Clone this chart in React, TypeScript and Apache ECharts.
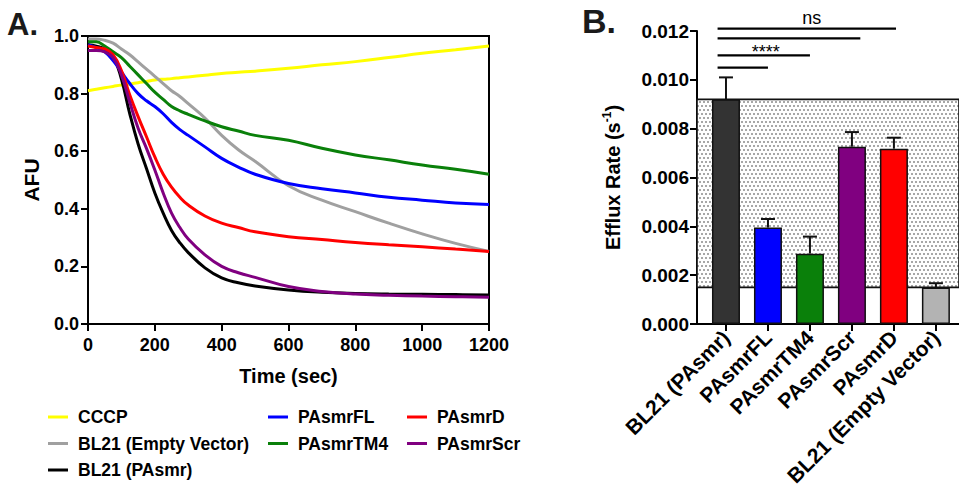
import React, { useEffect, useRef } from "react";
import * as echarts from "echarts";

// ---------- Panel A data ----------
const timeSec = [0, 25, 50, 75, 100, 125, 150, 175, 200, 225, 250, 275, 300, 350, 400, 450, 500, 600, 700, 800, 900, 1000, 1100, 1200];
const cccp = [0.81, 0.815, 0.82, 0.825, 0.83, 0.833, 0.838, 0.842, 0.847, 0.85, 0.852, 0.855, 0.858, 0.864, 0.87, 0.874, 0.878, 0.888, 0.9, 0.911, 0.925, 0.94, 0.952, 0.965];
const bl21Empty = [0.99, 0.99, 0.985, 0.975, 0.955, 0.935, 0.91, 0.885, 0.86, 0.835, 0.81, 0.79, 0.765, 0.715, 0.655, 0.605, 0.565, 0.48, 0.43, 0.39, 0.35, 0.313, 0.28, 0.252];
const bl21PAsmr = [0.97, 0.965, 0.955, 0.93, 0.85, 0.73, 0.625, 0.54, 0.455, 0.385, 0.325, 0.282, 0.248, 0.195, 0.16, 0.143, 0.132, 0.118, 0.11, 0.106, 0.104, 0.103, 0.102, 0.101];
const pasmrFL = [0.97, 0.96, 0.945, 0.915, 0.875, 0.835, 0.8, 0.775, 0.755, 0.73, 0.7, 0.675, 0.655, 0.615, 0.575, 0.545, 0.52, 0.488, 0.47, 0.455, 0.44, 0.43, 0.42, 0.415];
const pasmrTM4 = [0.98, 0.98, 0.965, 0.945, 0.925, 0.895, 0.865, 0.835, 0.805, 0.78, 0.755, 0.74, 0.728, 0.705, 0.685, 0.67, 0.655, 0.638, 0.61, 0.587, 0.57, 0.552, 0.537, 0.52];
const pasmrD = [0.965, 0.96, 0.955, 0.935, 0.88, 0.795, 0.72, 0.65, 0.58, 0.52, 0.475, 0.44, 0.413, 0.375, 0.35, 0.335, 0.32, 0.303, 0.293, 0.283, 0.275, 0.268, 0.26, 0.252];
const pasmrScr = [0.95, 0.95, 0.945, 0.925, 0.865, 0.77, 0.68, 0.61, 0.535, 0.455, 0.385, 0.335, 0.295, 0.24, 0.2, 0.178, 0.162, 0.13, 0.113, 0.104, 0.1, 0.097, 0.095, 0.093];

const curveNames = ["CCCP", "BL21 (Empty Vector)", "BL21 (PAsmr)", "PAsmrFL", "PAsmrTM4", "PAsmrD", "PAsmrScr"];
const curveValues = [cccp, bl21Empty, bl21PAsmr, pasmrFL, pasmrTM4, pasmrD, pasmrScr];
const curveColors = ["#ffff00", "#a0a0a0", "#000000", "#0000ff", "#0a800a", "#ff0000", "#800080"];

// ---------- Panel B data ----------
const barCategories = ["BL21 (PAsmr)", "PAsmrFL", "PAsmrTM4", "PAsmrScr", "PAsmrD", "BL21 (Empty Vector)"];
const effluxMean = [0.0092, 0.00395, 0.00288, 0.00726, 0.00718, 0.0015];
const effluxSEM = [0.0009, 0.00035, 0.0007, 0.0006, 0.00045, 0.00017];
const barColors = ["#333333", "#0000ff", "#0a800a", "#800080", "#ff0000", "#b3b3b3"];
const bracketStart = -0.2;
const bracketEnd = [1.0, 2.0, 3.2, 4.05];
const bracketY = [0.0105, 0.011, 0.0117, 0.0121];
const bracketLabel = ["", "****", "", "ns"];

const FONT = "'Liberation Sans', Arial, Helvetica, sans-serif";

function makeDotPattern(): any {
  const c = document.createElement("canvas");
  c.width = 8;
  c.height = 8;
  const ctx = c.getContext("2d")!;
  ctx.fillStyle = "#ffffff";
  ctx.fillRect(0, 0, 8, 8);
  ctx.fillStyle = "#3a3a3a";
  const dots = [[2, 2], [6, 2], [0, 6], [4, 6], [8, 6]];
  dots.forEach(([x, y]) => {
    ctx.beginPath();
    ctx.arc(x, y, 0.8, 0, Math.PI * 2);
    ctx.fill();
  });
  return { image: c, repeat: "repeat" };
}

export default function App() {
  const ref = useRef<HTMLDivElement>(null);

  useEffect(() => {
    if (!ref.current) return;
    const chart = echarts.init(ref.current, null, { renderer: "svg" });

    const lineSeries = curveNames.map((name, i) => ({
      name,
      type: "line",
      xAxisIndex: 0,
      yAxisIndex: 0,
      showSymbol: false,
      smooth: 0.45,
      lineStyle: { color: curveColors[i], width: 3 },
      itemStyle: { color: curveColors[i] },
      data: timeSec.map((t, k) => [t, curveValues[i][k]]),
      z: 2 + i * 0.01,
    }));

    const legendText = { fontFamily: FONT, fontWeight: "bold", fontSize: 17.5, color: "#000", lineHeight: 20, padding: [0, 0, 0, 5] };
    const legendBase = { orient: "vertical", top: 407, padding: 0, itemGap: 6.5, itemWidth: 20, itemHeight: 3, icon: "rect", textStyle: legendText, selectedMode: false };

    const option: any = {
      animation: false,
      backgroundColor: "#ffffff",
      graphic: [
        { type: "text", left: 7, top: 9, style: { text: "A.", font: `bold 31px ${FONT}`, fill: "#1a1a1a" } },
        { type: "text", left: 582, top: 4, style: { text: "B.", font: `bold 34px ${FONT}`, fill: "#1a1a1a" } },
      ],
      legend: [
        { ...legendBase, left: 48, data: curveNames.slice(0, 3) },
        { ...legendBase, left: 268, data: curveNames.slice(3, 5) },
        { ...legendBase, left: 407, data: curveNames.slice(5, 7) },
      ],
      grid: [
        { left: 88, top: 36, width: 401, height: 288, show: true, borderColor: "#000", borderWidth: 2, backgroundColor: "transparent" },
        { left: 697, top: 31, right: 0, height: 293 },
      ],
      xAxis: [
        {
          gridIndex: 0, type: "value", min: 0, max: 1200, interval: 200,
          name: "Time (sec)", nameLocation: "middle", nameGap: 42,
          nameTextStyle: { fontFamily: FONT, fontWeight: "bold", fontSize: 20, color: "#000" },
          axisLine: { show: true, onZero: false, lineStyle: { color: "#000", width: 2 } },
          axisTick: { show: true, inside: false, length: 7, lineStyle: { color: "#000", width: 2 } },
          axisLabel: { fontFamily: FONT, fontWeight: "bold", fontSize: 18, color: "#000", margin: 12, formatter: (v: number) => String(v) },
          splitLine: { show: false },
        },
        {
          gridIndex: 1, type: "value", min: -0.69, max: 5.55,
          axisLine: { show: true, onZero: false, lineStyle: { color: "#000", width: 2 } },
          axisTick: { show: true, inside: false, length: 7, customValues: [0, 1, 2, 3, 4, 5], lineStyle: { color: "#000", width: 2 } },
          axisLabel: {
            customValues: [0, 1, 2, 3, 4, 5],
            formatter: (v: number) => barCategories[Math.round(v)] ?? "",
            rotate: 45, fontFamily: FONT, fontWeight: "bold", fontSize: 21, color: "#000", margin: 10,
          },
          splitLine: { show: false },
        },
      ],
      yAxis: [
        {
          gridIndex: 0, type: "value", min: 0, max: 1, interval: 0.2,
          name: "AFU", nameLocation: "middle", nameGap: 46, nameRotate: 90,
          nameTextStyle: { fontFamily: FONT, fontWeight: "bold", fontSize: 21, color: "#000" },
          axisLine: { show: true, onZero: false, lineStyle: { color: "#000", width: 2 } },
          axisTick: { show: true, inside: false, length: 7, lineStyle: { color: "#000", width: 2 } },
          axisLabel: { fontFamily: FONT, fontWeight: "bold", fontSize: 18, color: "#000", margin: 9, formatter: (v: number) => v.toFixed(1) },
          splitLine: { show: false },
        },
        {
          gridIndex: 1, type: "value", min: 0, max: 0.012, interval: 0.002,
          name: "{a|Efflux Rate (s}{s|-1}{a|)}", nameLocation: "middle", nameGap: 72, nameRotate: 90,
          nameTextStyle: {
            rich: {
              a: { fontFamily: FONT, fontWeight: "bold", fontSize: 20, color: "#000", lineHeight: 24 },
              s: { fontFamily: FONT, fontWeight: "bold", fontSize: 12, color: "#000", lineHeight: 24, verticalAlign: "top", padding: [0, 0, 8, 0] },
            },
          },
          axisLine: { show: true, onZero: false, lineStyle: { color: "#000", width: 2 } },
          axisTick: { show: true, inside: false, length: 7, lineStyle: { color: "#000", width: 2 } },
          axisLabel: { fontFamily: FONT, fontWeight: "bold", fontSize: 19, color: "#000", margin: 8, formatter: (v: number) => v.toFixed(3) },
          splitLine: { show: false },
        },
      ],
      series: [
        ...lineSeries,
        {
          name: "shade",
          type: "line",
          xAxisIndex: 1,
          yAxisIndex: 1,
          data: [],
          z: 1,
          markArea: {
            silent: true,
            itemStyle: { color: makeDotPattern(), borderColor: "#111", borderWidth: 1.6 },
            data: [[{ yAxis: effluxMean[5] }, { yAxis: effluxMean[0] }]],
          },
        },
        {
          name: "efflux",
          type: "bar",
          xAxisIndex: 1,
          yAxisIndex: 1,
          barWidth: 28,
          z: 3,
          data: effluxMean.map((v, i) => ({ value: [i, v], itemStyle: { color: barColors[i], borderColor: "#111", borderWidth: 1.5 } })),
        },
        {
          name: "sem",
          type: "custom",
          xAxisIndex: 1,
          yAxisIndex: 1,
          z: 2,
          data: effluxMean.map((v, i) => [i, v, effluxSEM[i]]),
          renderItem: (params: any, api: any) => {
            const x = api.value(0), m = api.value(1), e = api.value(2);
            const p0 = api.coord([x, m]);
            const p1 = api.coord([x, m + e]);
            const st = { stroke: "#111", lineWidth: 2 };
            return {
              type: "group",
              children: [
                { type: "line", shape: { x1: p0[0], y1: p0[1], x2: p1[0], y2: p1[1] }, style: st },
                { type: "line", shape: { x1: p1[0] - 7, y1: p1[1], x2: p1[0] + 7, y2: p1[1] }, style: st },
              ],
            };
          },
        },
        {
          name: "brackets",
          type: "custom",
          xAxisIndex: 1,
          yAxisIndex: 1,
          z: 5,
          clip: false,
          data: bracketEnd.map((e, i) => [bracketStart, e, bracketY[i], i]),
          renderItem: (params: any, api: any) => {
            const s = api.value(0), e = api.value(1), y = api.value(2), idx = api.value(3);
            const a = api.coord([s, y]);
            const b = api.coord([e, y]);
            const label = bracketLabel[idx];
            const children: any[] = [
              { type: "line", shape: { x1: a[0], y1: a[1], x2: b[0], y2: b[1] }, style: { stroke: "#000", lineWidth: 2.2 } },
            ];
            if (label) {
              const dy = label === "ns" ? -2 : 6;
              children.push({
                type: "text",
                x: (a[0] + b[0]) / 2 + (label === "ns" ? 5 : 2),
                y: a[1] + dy,
                style: { text: label, font: `18px ${FONT}`, fill: "#000", align: "center", verticalAlign: "bottom" },
              });
            }
            return { type: "group", children };
          },
        },
      ],
    };

    chart.setOption(option);
    return () => chart.dispose();
  }, []);

  return (
    <div
      ref={ref}
      style={{ position: "fixed", left: 0, top: 0, width: 959, height: 500, background: "#fff" }}
    />
  );
}
